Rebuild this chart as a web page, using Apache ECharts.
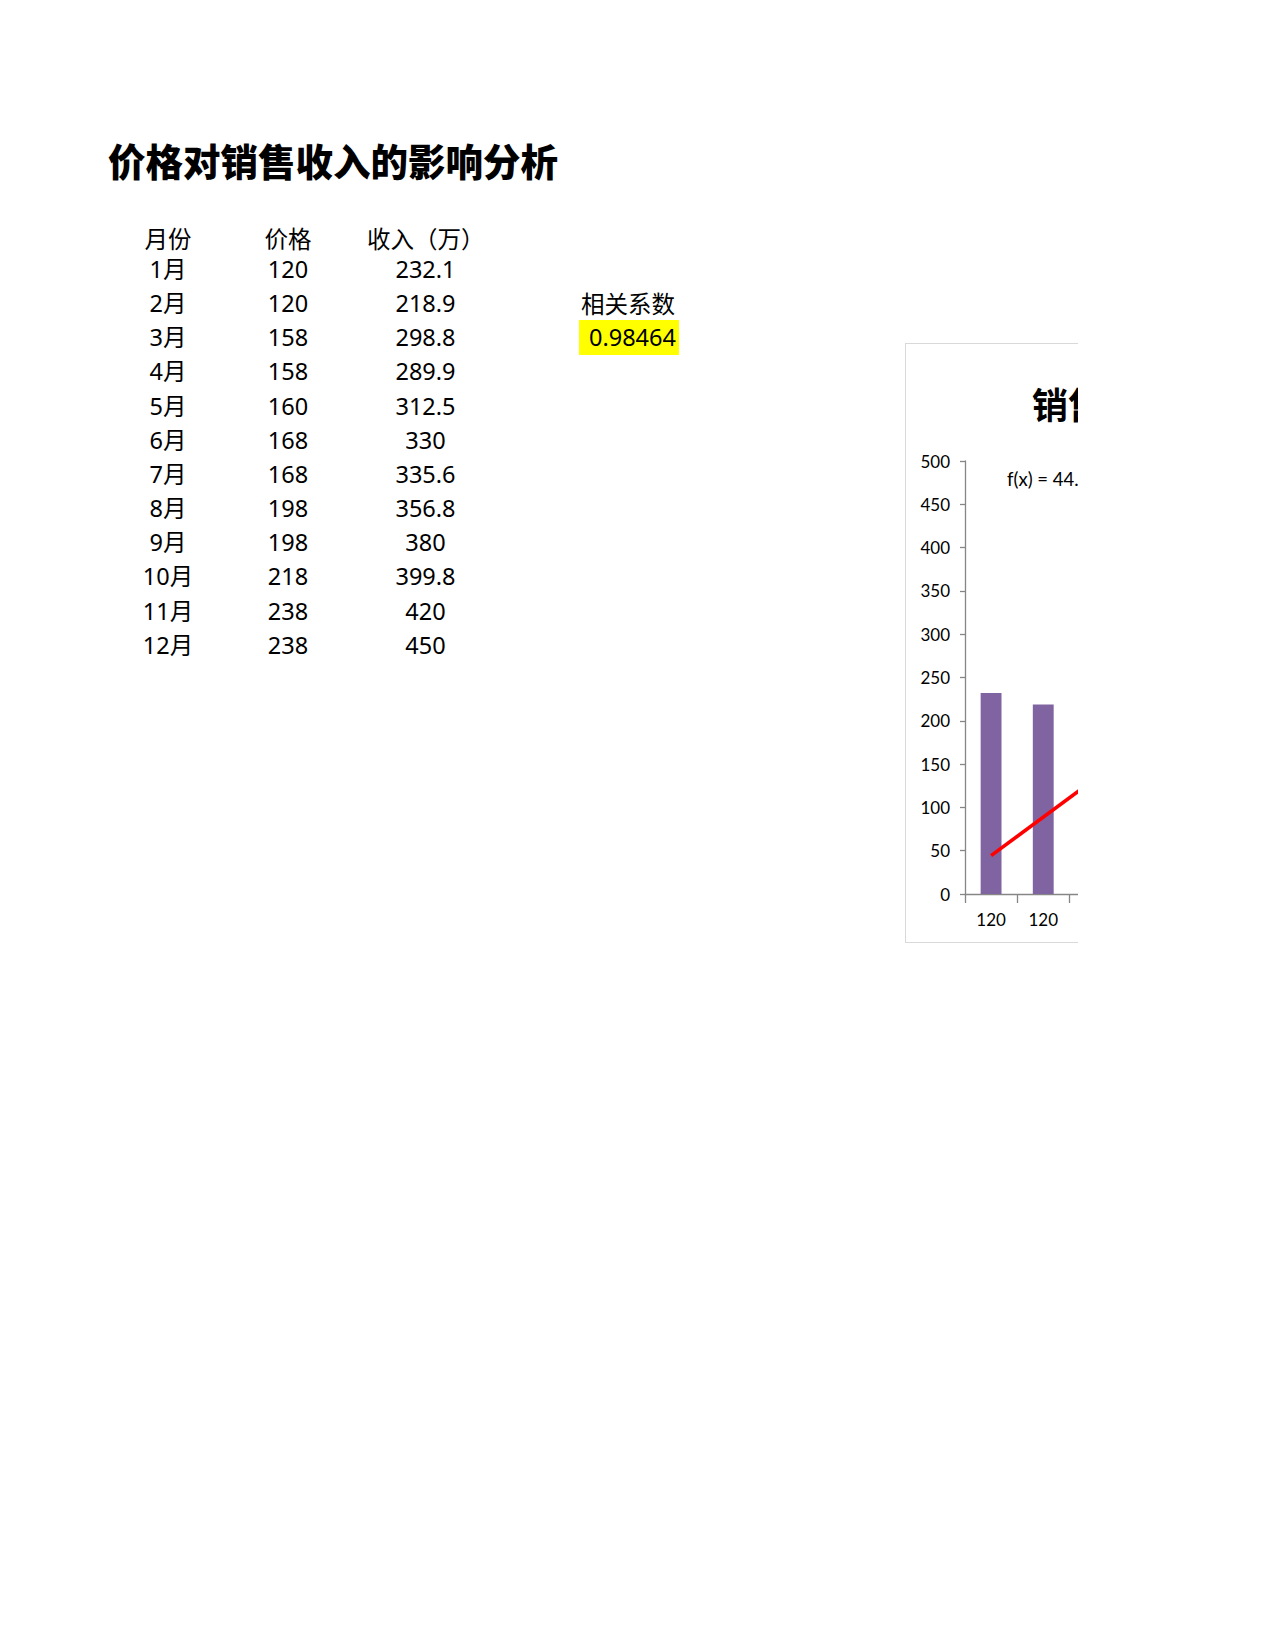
<!DOCTYPE html>
<html>
<head>
<meta charset="utf-8">
<script src="https://cdn.jsdelivr.net/npm/echarts@6/dist/echarts.min.js"></script>
<style>
  html, body { margin:0; padding:0; background:#fff; }
  body { width:1275px; height:1650px; position:relative; overflow:hidden;
         font-family:"Noto Sans","Noto Sans CJK SC",sans-serif; color:#000; }
  .t { position:absolute; white-space:nowrap; font-size:23.5px; line-height:30px; height:30px; }
  .c { transform:translateX(-50%); }
  #title { position:absolute; left:108px; top:134px; font-size:37.5px; line-height:52px;
           font-weight:900; font-family:"Noto Sans CJK SC","Noto Sans",sans-serif; }
  #corrBox { position:absolute; left:579px; top:320px; width:100px; height:35px; background:#ffff00; }
  #clip { position:absolute; left:905px; top:343px; width:173px; height:601px; overflow:hidden; }
  #chart { position:absolute; left:0; top:0; width:750px; height:600px; box-sizing:border-box;
           border:1.5px solid #d9d9d9; background:#fff; }
</style>
</head>
<body>
<div id="title">价格对销售收入的影响分析</div>
<div id="table"></div>
<div class="t" style="left:581px;top:289px;">相关系数</div>
<div id="corrBox"></div>
<div class="t" style="left:589px;top:322px;" id="corrVal"></div>
<div id="clip"><div id="chart"></div></div>
<script>
// ---- data ----
const months   = ['1月','2月','3月','4月','5月','6月','7月','8月','9月','10月','11月','12月'];
const prices   = [120, 120, 158, 158, 160, 168, 168, 198, 198, 218, 238, 238];
const revenue  = [232.1, 218.9, 298.8, 289.9, 312.5, 330, 335.6, 356.8, 380, 399.8, 420, 450];
const headers  = ['月份', '价格', '收入（万）'];
const correlation = '0.98464';
// trendline endpoints: [category index, value]
const trendStart = [0, 44.3];
const trendEnd   = [11, 533];
const trendLabel = 'f(x) = 44.49x − 0.15';
const chartTitle = '销售收入与价格关系图';
const yTicks = { min: 0, max: 500, interval: 50 };

// ---- table ----
const tbl = document.getElementById('table');
function cell(txt, x, y, center) {
  const d = document.createElement('div');
  d.className = 't' + (center ? ' c' : '');
  d.style.left = x + 'px';
  d.style.top = (y - 15) + 'px';
  d.textContent = txt;
  tbl.appendChild(d);
}
cell(headers[0], 168, 239, true);
cell(headers[1], 288, 239, true);
cell(headers[2], 367, 239, false);
months.forEach((m, i) => {
  const y = 269 + 34.15 * i;
  cell(m, 168, y, true);
  cell(String(prices[i]), 288, y, true);
  cell(String(revenue[i]), 425.5, y, true);
});
document.getElementById('corrVal').textContent = correlation;

// ---- chart ----
const chart = echarts.init(document.getElementById('chart'), null, { renderer: 'svg' });
chart.setOption({
  animation: false,
  backgroundColor: 'transparent',
  title: {
    text: chartTitle, left: 121, top: 36,
    textStyle: { fontSize: 36, fontWeight: 'bold', color: '#000',
                 fontFamily: '"Noto Sans CJK SC","Noto Sans",sans-serif' }
  },
  graphic: [{
    type: 'text', left: 101, top: 125,
    style: { text: trendLabel, fontSize: 18.5, fill: '#000', fontFamily: 'Lato, "Noto Sans", sans-serif' }
  }],
  grid: { left: 59, top: 117, width: 626, height: 433, containLabel: false },
  xAxis: {
    type: 'category',
    data: months,
    boundaryGap: true,
    axisLine: { show: true, lineStyle: { color: '#868686', width: 1.3 } },
    axisTick: { show: true, length: 9, alignWithLabel: false, lineStyle: { color: '#868686', width: 1.3 } },
    axisLabel: { margin: 17, fontSize: 17, color: '#000', fontFamily: 'Lato, "Noto Sans", sans-serif',
                 formatter: (v, i) => String(prices[i]) },
    splitLine: { show: false }
  },
  yAxis: {
    type: 'value',
    min: yTicks.min, max: yTicks.max, interval: yTicks.interval,
    axisLine: { show: true, lineStyle: { color: '#868686', width: 1.3 } },
    axisTick: { show: true, length: 5, inside: false, lineStyle: { color: '#868686', width: 1.3 } },
    axisLabel: { margin: 15, fontSize: 17, color: '#000', fontFamily: 'Lato, "Noto Sans", sans-serif' },
    splitLine: { show: false }
  },
  series: [
    {
      type: 'bar', data: revenue, barCategoryGap: '60%',
      itemStyle: { color: '#8064a2' }, z: 2
    },
    {
      type: 'line', data: [trendStart, trendEnd], symbol: 'none', clip: true,
      lineStyle: { color: '#ff0000', width: 3.5 }, z: 3
    }
  ]
});
</script>
</body>
</html>
